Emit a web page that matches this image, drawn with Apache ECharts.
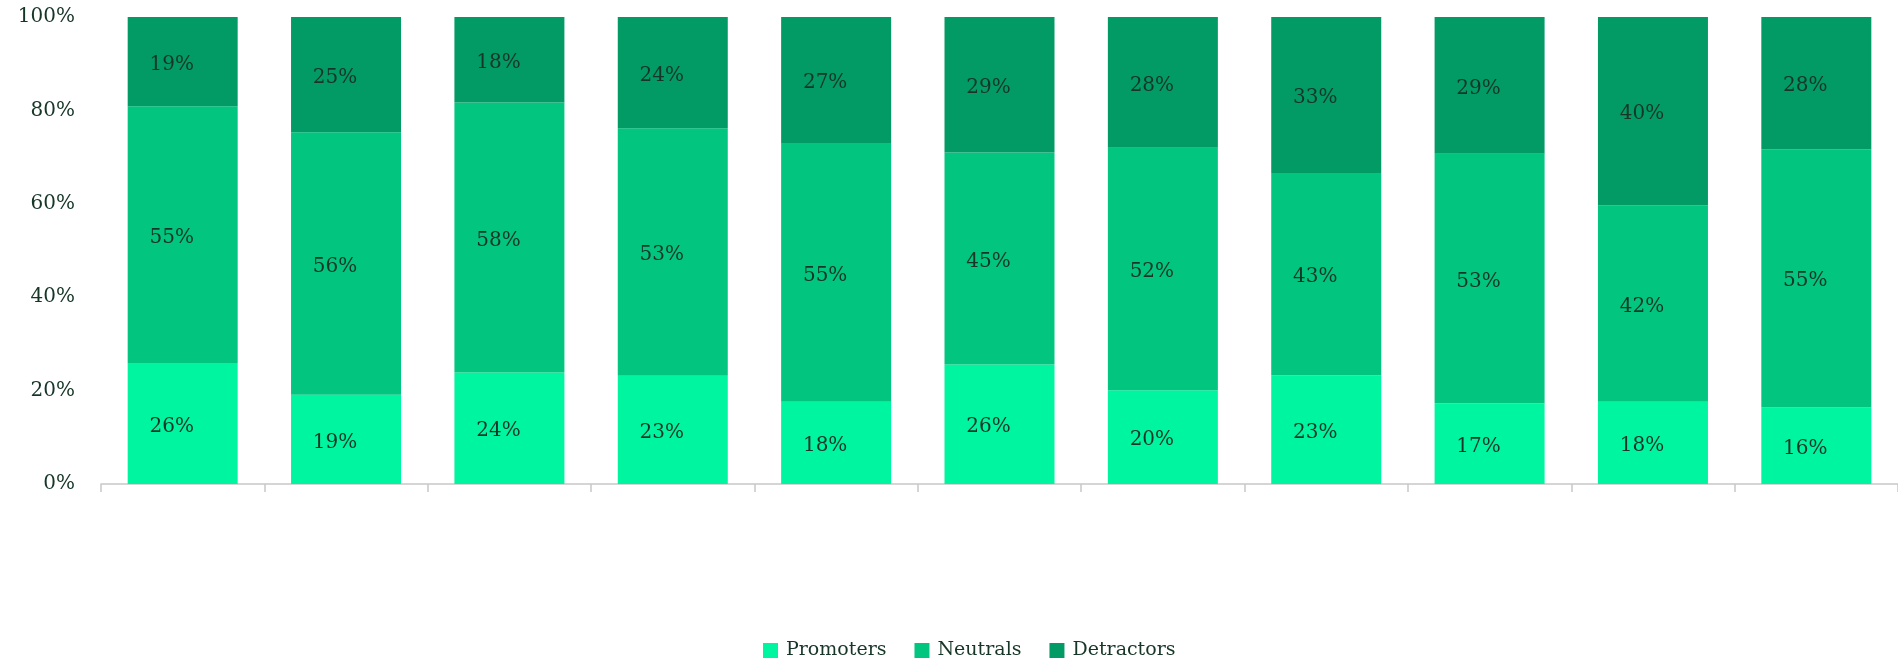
<!DOCTYPE html>
<html>
<head>
<meta charset="utf-8">
<script src="https://cdn.jsdelivr.net/npm/echarts@6/dist/echarts.min.js"></script>
<style>
html,body{margin:0;padding:0;background:#fff;}
#chart{width:1898px;height:661px;}
</style>
</head>
<body>
<div id="chart"></div>
<script>
const categories = ['', '', '', '', '', '', '', '', '', '', ''];
const promoters  = [25.9, 19.1, 23.9, 23.2, 17.6, 25.6, 20.1, 23.3, 17.3, 17.6, 16.4];
const neutrals   = [55.0, 56.2, 57.8, 53.0, 55.4, 45.4, 51.9, 43.3, 53.4, 42.1, 55.3];
const detractors = [19.1, 24.7, 18.3, 23.8, 27.0, 29.0, 28.0, 33.4, 29.3, 40.3, 28.3];
const yTicks = ['0%', '20%', '40%', '60%', '80%', '100%'];

const FONT = '"DejaVu Serif", "Liberation Serif", serif';
const TEXT = '#173628';

function mkSeries(name, data, color) {
  return {
    name: name,
    type: 'bar',
    stack: 'total',
    data: data,
    barWidth: 110,
    itemStyle: { color: color },
    label: {
      show: true,
      position: 'inside',
      offset: [-11, 3],
      formatter: p => Math.round(p.value) + '%',
      color: TEXT,
      fontFamily: FONT,
      fontSize: 20
    },
    emphasis: { disabled: true }
  };
}

const chart = echarts.init(document.getElementById('chart'), null, { renderer: 'canvas' });
chart.setOption({
  animation: false,
  backgroundColor: '#ffffff',
  grid: { left: 101, right: -10, top: 17, bottom: 177, containLabel: false },
  legend: {
    left: 763,
    top: 641,
    padding: 0,
    icon: 'rect',
    itemWidth: 15,
    itemHeight: 15,
    itemGap: 28,
    textStyle: { color: TEXT, fontFamily: FONT, fontSize: 19, padding: [0, 0, 0, 3] },
    data: ['Promoters', 'Neutrals', 'Detractors']
  },
  xAxis: {
    type: 'category',
    data: categories,
    axisLine: { show: true, lineStyle: { color: '#c8c8c8', width: 1.5 } },
    axisTick: { show: true, length: 8, lineStyle: { color: '#c8c8c8', width: 1.5 } },
    axisLabel: { show: false }
  },
  yAxis: {
    type: 'value',
    min: 0,
    max: 100,
    interval: 20,
    axisLine: { show: false },
    axisTick: { show: false },
    splitLine: { show: false },
    axisLabel: {
      margin: 26,
      color: TEXT,
      fontFamily: FONT,
      fontSize: 20,
      formatter: v => yTicks[Math.round(v / 20)]
    }
  },
  series: [
    mkSeries('Promoters', promoters, '#00f5a0'),
    mkSeries('Neutrals', neutrals, '#02c680'),
    mkSeries('Detractors', detractors, '#029b66')
  ]
});
</script>
</body>
</html>
